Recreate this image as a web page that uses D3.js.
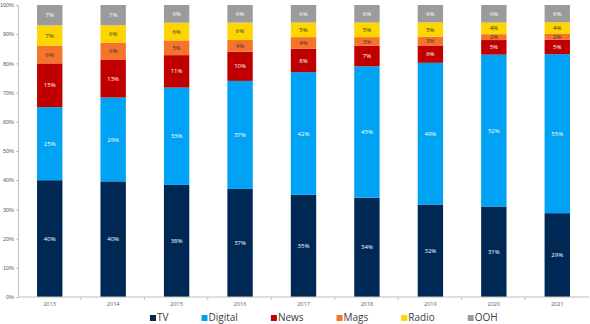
<!DOCTYPE html>
<html>
<head>
<meta charset="utf-8">
<script src="https://cdn.jsdelivr.net/npm/d3@7"></script>
<style>
  body { margin: 0; background: #fff; }
  svg { display: block; font-family: "Open Sans", "Noto Sans", sans-serif; }
</style>
</head>
<body>
<svg id="chart" width="590" height="324"></svg>
<script>
const years = ['2013', '2014', '2015', '2016', '2017', '2018', '2019', '2020', '2021'];
const media = ['TV', 'Digital', 'News', 'Mags', 'Radio', 'OOH'];
const tv      = [40, 40, 38, 37, 35, 34, 32, 31, 29];
const digital = [25, 29, 33, 37, 42, 45, 49, 52, 55];
const news    = [15, 13, 11, 10, 8, 7, 6, 5, 5];
const mags    = [6, 6, 5, 4, 4, 3, 3, 2, 2];
const radio   = [7, 6, 6, 6, 5, 5, 5, 4, 4];
const ooh     = [7, 7, 6, 6, 6, 6, 6, 6, 6];
const yTicks  = [0, 0.1, 0.2, 0.3, 0.4, 0.5, 0.6, 0.7, 0.8, 0.9, 1];

const colors = ['#002855', '#00a3f4', '#c00000', '#f5732a', '#ffd500', '#9b9b9b'];
const labelColors = ['#fff', '#fff', '#fff', '#333', '#333', '#fff'];

const width = 590, height = 324;
const margin = { top: 5, right: 1, bottom: 27, left: 18 };

// build rows for d3.stack
const seriesValues = [tv, digital, news, mags, radio, ooh];
const rows = years.map((y, i) => {
  const row = { year: y };
  media.forEach((m, j) => { row[m] = seriesValues[j][i]; });
  return row;
});

const stack = d3.stack().keys(media).offset(d3.stackOffsetExpand);
const layers = stack(rows);

const svg = d3.select('#chart');

const x = d3.scaleBand()
  .domain(years)
  .range([margin.left, width - margin.right])
  .paddingInner(0.6)
  .paddingOuter(0.3);

const y = d3.scaleLinear()
  .domain([0, 1])
  .range([height - margin.bottom, margin.top]);

const color = d3.scaleOrdinal().domain(media).range(colors);

// bars
const layerG = svg.append('g')
  .selectAll('g')
  .data(layers)
  .join('g')
  .attr('fill', d => color(d.key));

layerG.selectAll('rect')
  .data(d => d)
  .join('rect')
  .attr('x', d => x(d.data.year))
  .attr('y', d => y(d[1]))
  .attr('width', x.bandwidth())
  .attr('height', d => y(d[0]) - y(d[1]));

// segment labels
layers.forEach((layer, j) => {
  svg.append('g')
    .selectAll('text')
    .data(layer)
    .join('text')
    .attr('x', d => x(d.data.year) + x.bandwidth() / 2)
    .attr('y', d => (y(d[0]) + y(d[1])) / 2)
    .attr('dy', '0.35em')
    .attr('text-anchor', 'middle')
    .attr('font-size', 6)
    .attr('fill', labelColors[j])
    .text(d => d.data[layer.key] + '%');
});

// y axis
const yAxis = svg.append('g')
  .attr('transform', `translate(${margin.left},0)`)
  .call(d3.axisLeft(y).tickValues(yTicks).tickFormat(d3.format('.0%')).tickSize(2).tickPadding(2));
yAxis.select('.domain').attr('stroke', '#bfbfbf');
yAxis.selectAll('.tick line').attr('stroke', '#bfbfbf');
yAxis.selectAll('text').attr('font-size', 5.5).attr('fill', '#595959').attr('font-family', null);

// x axis with ticks between categories
const xAxisG = svg.append('g')
  .attr('transform', `translate(0,${height - margin.bottom})`);
xAxisG.append('line')
  .attr('x1', margin.left).attr('x2', width - margin.right)
  .attr('stroke', '#bfbfbf');
const step = x.step();
xAxisG.selectAll('.sep')
  .data(years.slice(1))
  .join('line')
  .attr('class', 'sep')
  .attr('x1', d => x(d) - step * x.paddingInner() / 2 - 0.5)
  .attr('x2', d => x(d) - step * x.paddingInner() / 2 - 0.5)
  .attr('y2', 3)
  .attr('stroke', '#bfbfbf');
xAxisG.selectAll('.lab')
  .data(years)
  .join('text')
  .attr('class', 'lab')
  .attr('x', d => x(d) + x.bandwidth() / 2)
  .attr('y', 9)
  .attr('text-anchor', 'middle')
  .attr('font-size', 5.5)
  .attr('fill', '#595959')
  .text(d => d);

// legend
const legend = svg.append('g').attr('transform', 'translate(150,321)');
let lx = 0;
media.forEach(m => {
  const item = legend.append('g').attr('transform', `translate(${lx},0)`);
  item.append('rect')
    .attr('y', -6).attr('width', 6).attr('height', 6)
    .attr('fill', color(m));
  const t = item.append('text')
    .attr('x', 7)
    .attr('font-size', 10)
    .attr('fill', '#404040')
    .text(m);
  lx += 7 + t.node().getComputedTextLength() + 33;
});
</script>
</body>
</html>
